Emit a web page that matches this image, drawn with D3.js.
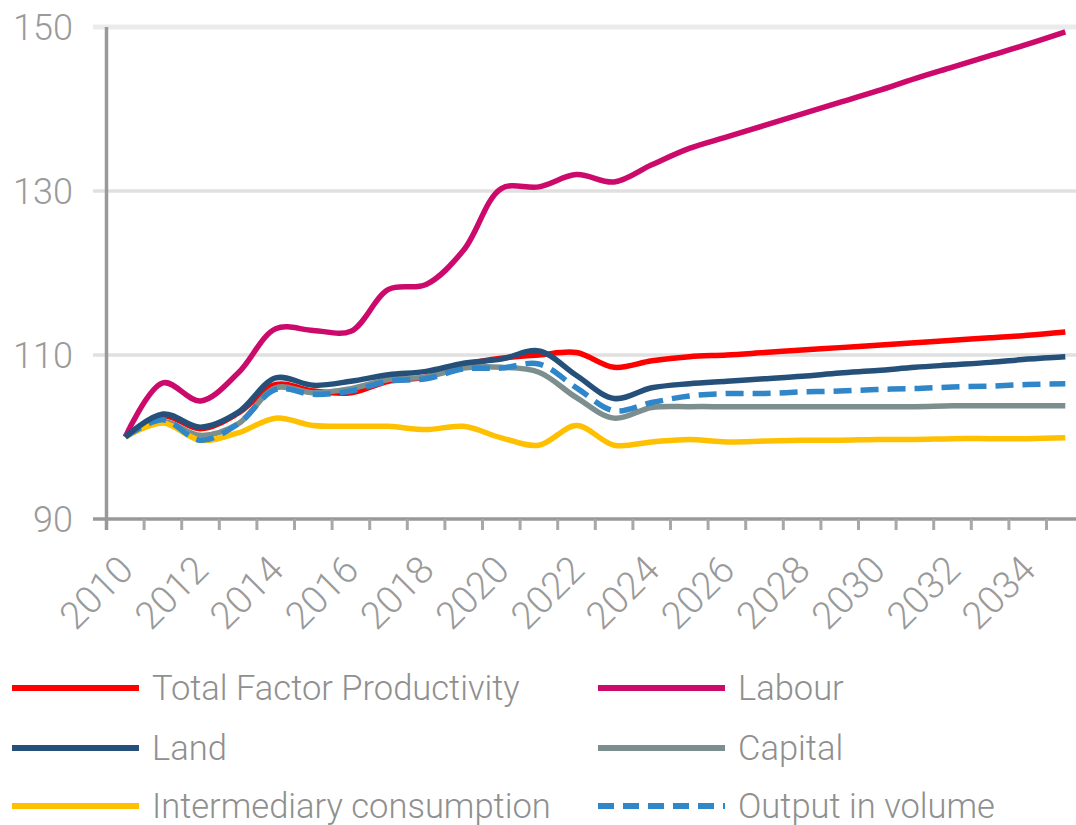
<!DOCTYPE html>
<html>
<head>
<meta charset="utf-8">
<script src="https://cdn.jsdelivr.net/npm/d3@7"></script>
<style>
  body { margin: 0; background: #fff; }
  svg { display: block; font-family: Roboto, "Open Sans", sans-serif; }
</style>
</head>
<body>
<svg id="chart" width="1076" height="825"></svg>
<script>
// categories
const years = [2010, 2011, 2012, 2013, 2014, 2015, 2016, 2017, 2018, 2019, 2020, 2021, 2022,
               2023, 2024, 2025, 2026, 2027, 2028, 2029, 2030, 2031, 2032, 2033, 2034, 2035];
const yearLabels = ['2010', '2012', '2014', '2016', '2018', '2020', '2022', '2024', '2026', '2028', '2030', '2032', '2034'];
const yTicks = [90, 110, 130, 150];

// series values, index 2010 = 100
const tfp = [100, 102.6, 101.0, 102.9, 106.4, 105.6, 105.4, 106.8, 107.3, 108.8, 109.6, 110.0, 110.3,
             108.5, 109.3, 109.8, 110.0, 110.3, 110.6, 110.9, 111.2, 111.5, 111.8, 112.1, 112.4, 112.8];
const labour = [100, 106.6, 104.4, 107.8, 113.2, 113.0, 112.9, 118.0, 118.6, 122.8, 130.3, 130.5, 132.0,
                131.1, 133.2, 135.2, 136.6, 138.0, 139.4, 140.8, 142.2, 143.7, 145.1, 146.5, 147.9, 149.4];
const land = [100, 102.8, 101.2, 103.0, 107.2, 106.3, 106.8, 107.6, 108.0, 109.0, 109.5, 110.5, 107.5,
              104.7, 106.0, 106.5, 106.8, 107.1, 107.4, 107.8, 108.1, 108.5, 108.8, 109.1, 109.5, 109.8];
const capital = [100, 101.9, 100.2, 101.6, 106.0, 105.4, 105.9, 107.0, 107.3, 108.4, 108.5, 107.9, 104.8,
                 102.3, 103.6, 103.7, 103.7, 103.7, 103.7, 103.7, 103.7, 103.7, 103.8, 103.8, 103.8, 103.8];
const intermediary = [100, 101.7, 99.6, 100.5, 102.3, 101.4, 101.3, 101.3, 100.9, 101.3, 99.9, 99.0, 101.4,
                      99.0, 99.4, 99.7, 99.4, 99.5, 99.6, 99.6, 99.7, 99.7, 99.8, 99.8, 99.8, 99.9];
const output = [100, 102.1, 99.6, 101.6, 105.8, 105.2, 105.6, 106.8, 107.1, 108.3, 108.4, 108.9, 106.0,
                103.2, 104.2, 105.0, 105.3, 105.3, 105.5, 105.6, 105.8, 105.9, 106.1, 106.2, 106.4, 106.5];

const series = [
  { name: 'Total Factor Productivity', values: tfp, color: '#ff0000', dash: null },
  { name: 'Labour', values: labour, color: '#cc0a6c', dash: null },
  { name: 'Land', values: land, color: '#24507a', dash: null },
  { name: 'Capital', values: capital, color: '#7d8e8e', dash: null },
  { name: 'Intermediary consumption', values: intermediary, color: '#ffc000', dash: null },
  { name: 'Output in volume', values: output, color: '#2f86c8', dash: '18,9' }
];
// drawing order (last on top)
const drawOrder = ['Total Factor Productivity', 'Labour', 'Capital', 'Intermediary consumption', 'Output in volume', 'Land'];

const svg = d3.select('#chart');
const left = 106.5, step = 37.6;
const x = d3.scaleBand().domain(years).range([left, left + step * years.length]).padding(0);
const y = d3.scaleLinear().domain([90, 150]).range([519, 27]);
const cx = d => x(d) + x.bandwidth() / 2;

// gridlines
svg.append('g')
  .selectAll('line')
  .data(yTicks.filter(t => t > 90))
  .enter().append('line')
  .attr('x1', 93).attr('x2', 1076)
  .attr('y1', d => y(d)).attr('y2', d => y(d))
  .attr('stroke', d => d === 150 ? '#ebebeb' : '#e0e0e0')
  .attr('stroke-width', d => d === 150 ? 5 : 3.5);

// y labels
svg.append('g')
  .selectAll('text')
  .data(yTicks)
  .enter().append('text')
  .attr('x', 73)
  .attr('y', d => y(d))
  .attr('dy', '0.36em')
  .attr('text-anchor', 'end')
  .attr('fill', '#9a9a9a')
  .style('font-size', '36px')
  .style('font-weight', 300)
  .text(d => d);

// x axis
const xAxis = svg.append('g');
xAxis.append('line')
  .attr('x1', 93).attr('x2', 1076)
  .attr('y1', y(90)).attr('y2', y(90))
  .attr('stroke', '#999').attr('stroke-width', 3.5);
xAxis.selectAll('line.tick')
  .data(years)
  .enter().append('line')
  .attr('class', 'tick')
  .attr('x1', d => x(d) + x.bandwidth()).attr('x2', d => x(d) + x.bandwidth())
  .attr('y1', y(90)).attr('y2', y(90) + 11)
  .attr('stroke', '#a8a8a8').attr('stroke-width', 3);
xAxis.selectAll('text')
  .data(yearLabels)
  .enter().append('text')
  .attr('transform', d => `translate(${cx(+d) + 10},${572}) rotate(-45)`)
  .attr('text-anchor', 'end')
  .attr('fill', '#9a9a9a')
  .style('font-size', '38px')
  .style('font-weight', 300)
  .text(d => d);

// y axis line
svg.append('line')
  .attr('x1', left).attr('x2', left)
  .attr('y1', y(150)).attr('y2', y(90) + 11)
  .attr('stroke', '#999').attr('stroke-width', 3.5);

// series lines
const line = d3.line()
  .x((d, i) => cx(years[i]))
  .y(d => y(d))
  .curve(d3.curveCatmullRom.alpha(0.5));

drawOrder.forEach(name => {
  const s = series.find(d => d.name === name);
  svg.append('path')
    .datum(s.values)
    .attr('d', line)
    .attr('fill', 'none')
    .attr('stroke', s.color)
    .attr('stroke-width', 5.5)
    .attr('stroke-dasharray', s.dash);
});

// legend
const legendPos = [[12, 688], [598, 688], [12, 748], [598, 748], [12, 806], [598, 806]];
const legendOrder = ['Total Factor Productivity', 'Labour', 'Land', 'Capital', 'Intermediary consumption', 'Output in volume'];
const legend = svg.append('g')
  .selectAll('g')
  .data(legendOrder.map(n => series.find(s => s.name === n)))
  .enter().append('g')
  .attr('transform', (d, i) => `translate(${legendPos[i][0]},${legendPos[i][1]})`);
legend.append('line')
  .attr('x1', 0).attr('x2', 127)
  .attr('stroke', d => d.color)
  .attr('stroke-width', 6)
  .attr('stroke-dasharray', d => d.dash ? '16,9' : null);
legend.append('text')
  .attr('x', 140)
  .attr('dy', '0.36em')
  .attr('fill', '#8f8f8f')
  .style('font-size', '34.5px')
  .style('font-weight', 300)
  .text(d => d.name);
</script>
</body>
</html>
